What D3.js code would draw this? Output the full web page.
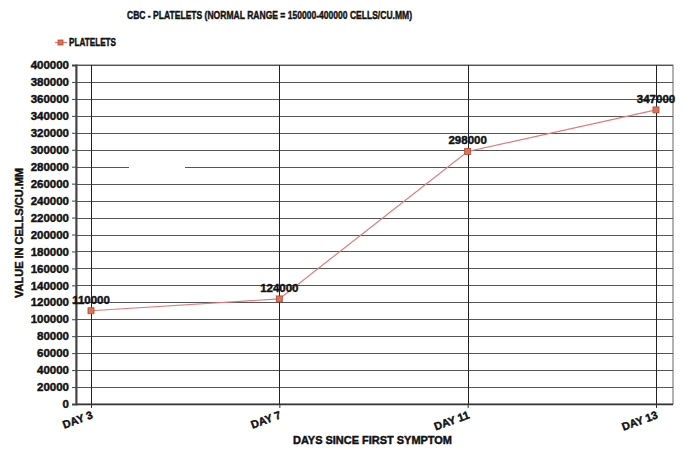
<!DOCTYPE html>
<html><head><meta charset="utf-8">
<script src="https://cdn.jsdelivr.net/npm/d3@7"></script>
<style>
body{margin:0;background:#fff;}
text{font-family:"Liberation Sans",Arial,sans-serif;font-weight:bold;fill:#111;stroke:#111;stroke-width:0.45px;}
</style></head>
<body><svg id="c" width="688" height="450"></svg>
<script>
const categories = ["DAY 3","DAY 7","DAY 11","DAY 13"];
const platelets = [110000,124000,298000,347000];
const yTicks = d3.range(0,400001,20000);
const title = "CBC - PLATELETS (NORMAL RANGE = 150000-400000 CELLS/CU.MM)";
const seriesName = "PLATELETS";
const xTitle = "DAYS SINCE FIRST SYMPTOM";
const yTitle = "VALUE IN CELLS/CU.MM";

const svg = d3.select("#c");
const L=76, R=673, T=65, B=404;
const x = d3.scalePoint().domain(categories).range([91,656]);
const y = d3.scaleLinear().domain([0,400000]).range([B,T]);

svg.append("rect").attr("x",L).attr("y",T).attr("width",R-L).attr("height",B-T)
  .attr("fill","#fff").attr("stroke","#666").attr("stroke-width",1);

svg.append("g").selectAll("line").data(yTicks).join("line")
  .attr("x1",L).attr("x2",R).attr("y1",d=>Math.round(y(d))+0.5).attr("y2",d=>Math.round(y(d))+0.5)
  .attr("stroke","#555").attr("stroke-width",1);
svg.append("g").selectAll("line").data(categories).join("line")
  .attr("x1",d=>Math.round(x(d))+0.5).attr("x2",d=>Math.round(x(d))+0.5).attr("y1",T).attr("y2",B)
  .attr("stroke","#222").attr("stroke-width",1);

svg.append("rect").attr("x",129).attr("y",y(280000)-1.5).attr("width",56).attr("height",3).attr("fill","#fff");

const ya = svg.append("g").attr("transform",`translate(${L},0)`)
  .call(d3.axisLeft(y).tickValues(yTicks).tickSize(4).tickPadding(3).tickFormat(d3.format("d")));
ya.select(".domain").attr("stroke","#444").attr("stroke-width",2);
ya.selectAll(".tick line").attr("stroke","#444");
ya.selectAll("text").attr("font-size",11.5).attr("font-family","Liberation Sans, Arial").attr("font-weight","bold").attr("fill","#111");

const xa = svg.append("g").attr("transform",`translate(0,${B})`)
  .call(d3.axisBottom(x).tickSize(4).tickPadding(4));
xa.select(".domain").attr("stroke","#333").attr("stroke-width",1.5).attr("d",`M${L},0.5H${R}`);
xa.selectAll(".tick line").attr("stroke","#333");
xa.selectAll("text").attr("font-size",11).attr("font-family","Liberation Sans, Arial").attr("font-weight","bold").attr("fill","#111")
  .attr("text-anchor","end").attr("y",0).attr("dy","0").attr("transform","translate(2,14) rotate(-20)");

const line = d3.line().x((d,i)=>x(categories[i])).y(d=>y(d));
svg.append("path").datum(platelets).attr("d",line).attr("fill","none").attr("stroke","#e07b7b").attr("stroke-width",1.2);
svg.append("g").selectAll("rect").data(platelets).join("rect")
  .attr("x",(d,i)=>x(categories[i])-3).attr("y",d=>y(d)-3).attr("width",6).attr("height",6)
  .attr("fill","#e0734f").attr("stroke","#a84a35").attr("stroke-width",0.8);
svg.append("g").selectAll("text").data(platelets).join("text")
  .attr("x",(d,i)=>x(categories[i])).attr("y",d=>y(d)-7).attr("text-anchor","middle")
  .attr("font-size",11.5).text(d=>d);

svg.append("text").attr("x",127).attr("y",19).attr("font-size",11.5)
  .attr("textLength",285).attr("lengthAdjust","spacingAndGlyphs").text(title);
svg.append("line").attr("x1",55).attr("x2",67).attr("y1",42.5).attr("y2",42.5).attr("stroke","#e07b7b").attr("stroke-width",1.2);
svg.append("rect").attr("x",58).attr("y",40).attr("width",5).attr("height",5).attr("fill","#e0734f").attr("stroke","#a84a35").attr("stroke-width",0.8);
svg.append("text").attr("x",69).attr("y",46).attr("font-size",11)
  .attr("textLength",47).attr("lengthAdjust","spacingAndGlyphs").text(seriesName);
svg.append("text").attr("x",293).attr("y",444).attr("font-size",11)
  .attr("textLength",159).attr("lengthAdjust","spacingAndGlyphs").text(xTitle);
svg.append("text").attr("transform",`translate(23,298) rotate(-90)`).attr("font-size",11)
  .attr("textLength",130).attr("lengthAdjust","spacingAndGlyphs").text(yTitle);
</script></body></html>
